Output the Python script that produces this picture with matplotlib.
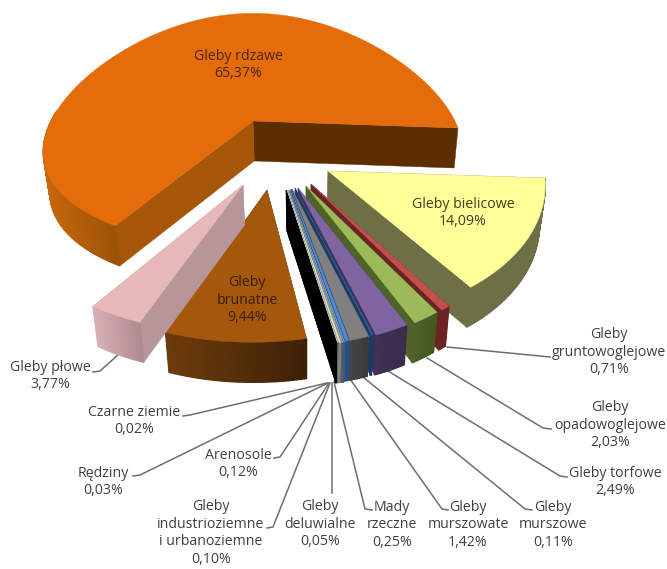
import numpy as np
import matplotlib
matplotlib.use("Agg")
import matplotlib.pyplot as plt
from matplotlib.colors import to_rgb

plt.rcParams['font.family'] = ['Open Sans', 'DejaVu Sans']

# data, counter-clockwise from the east edge of the pie
names = ["Gleby rdzawe", "Gleby płowe", "Gleby\nbrunatne", "Czarne ziemie", "Rędziny", "Arenosole",
         "Gleby\nindustrioziemne\ni urbanoziemne", "Gleby\ndeluwialne", "Mady\nrzeczne",
         "Gleby\nmurszowate", "Gleby\nmurszowe", "Gleby torfowe", "Gleby\nopadowoglejowe",
         "Gleby\ngruntowoglejowe", "Gleby bielicowe"]
values = [65.37, 3.77, 9.44, 0.02, 0.03, 0.12, 0.10, 0.05, 0.25, 1.42, 0.11, 2.49, 2.03, 0.71, 14.09]

top_col = ["#E46C0A", "#E6B9B8", "#A5570B", "#000000", "#B7C4D8", "#EDE3A0", "#7FA9DC", "#9A9A9A",
           "#4F8BD6", "#808080", "#2F5F9E", "#8064A2", "#9BBB59", "#C0504D", "#FFFF99"]
wall_a = ["#C8680C", "#D8B0B4", "#6E3C0C", "#000000", "#5E6B7D", "#8C865E", "#3E5F8C", "#555555",
          "#23508C", "#454545", "#1B3A66", "#3F3151", "#4F6228", "#6B2422", "#6E6F45"]
wall_b = ["#9C5208", "#AE8A90", "#3C2006", "#000000", "#5E6B7D", "#8C865E", "#3E5F8C", "#555555",
          "#23508C", "#3A3A3A", "#1B3A66", "#3A2D4B", "#455622", "#6B2422", "#6E6F45"]
cut_start = ["#5C2E00", "#B7969A", "#5A3008", "#000000", "#5E6B7D", "#8C865E", "#3E5F8C", "#555555",
             "#23508C", "#2B2B2B", "#1B3A66", "#3F3151", "#4F6228", "#6B2422", "#6E6F45"]
cut_end = ["#A65608", "#B7969A", "#5A3008", "#000000", "#5E6B7D", "#8C865E", "#3E5F8C", "#555555",
           "#23508C", "#2B2B2B", "#1B3A66", "#3F3151", "#4F6228", "#6B2422", "#6E6F45"]

# projection of each exploded slice, in pixels
apex_x = [253, 243, 267, 286, 287, 288, 289, 290, 291, 292, 295, 298, 306, 311, 328]
apex_y = [121, 185, 190, 190, 190, 190, 190, 190, 189, 189, 188, 188, 186, 184, 171]
rad_x = [205, 235, 243, 190, 190, 190, 190, 190, 190, 190, 190, 190, 190, 190, 217]
rad_y = [117, 136, 141, 145, 145, 145, 145, 145, 145, 145, 145, 145, 145, 145, 138]
persp = [0.22, 0.0, 0.0, 0.19, 0.19, 0.19, 0.19, 0.19, 0.19, 0.19, 0.19, 0.19, 0.19, 0.19, 0.05]
shear = [0, -20, -15, 0, 0, 0, 0, 0, 0, 0, 0, 0, 0, 0, 0]
depth = 40

label_x = [238, 50, 247, 134, 103, 238, 211, 320, 392, 468, 553, 615, 610, 609, 463]
label_y = [65, 376, 300, 421, 482, 464, 533, 524, 525, 525, 525, 482, 425, 352, 213]

# leader lines: label end, elbow, slice end (first slice has its label on the pie)
leaders = {
    1: [(93, 372), (100, 371), (119, 354)],
    3: [(183, 416), (190, 415), (327, 383)],
    4: [(133, 476), (140, 475), (328, 383)],
    5: [(274, 458), (280, 457), (329, 383)],
    6: [(267, 528), (273, 527), (330, 383)],
    7: [(332, 493), (332, 383)],
    8: [(372, 510), (365, 509), (334, 382)],
    9: [(448, 510), (442, 509), (350, 379)],
    10: [(532, 510), (525, 509), (363, 377)],
    11: [(567, 477), (560, 476), (388, 371)],
    12: [(551, 429), (543, 428), (427, 358)],
    13: [(550, 357), (540, 356), (447, 347)],
}

angles = np.concatenate([[0], np.cumsum(values)]) / sum(values) * 2 * np.pi


def rim(i, t):
    u, v = np.cos(t), -np.sin(t)
    x = apex_x[i] + rad_x[i] * u * (1 + persp[i] * v) + shear[i] * v
    y = apex_y[i] + rad_y[i] * v * (1 + 0.08 * v) + 7 * u * u
    return x, y


def drop(x, y):
    return x + (305 - x) * 0.025, y + depth


def mix(a, b, f):
    a, b = np.array(to_rgb(a)), np.array(to_rgb(b))
    return tuple(a + (b - a) * f)


fig = plt.figure(figsize=(6.67, 5.69), dpi=100)
ax = fig.add_axes([0, 0, 1, 1])
ax.set_xlim(0, 667)
ax.set_ylim(569, 0)
ax.axis("off")

for pts_i in leaders:
    pts = np.array(leaders[pts_i])
    ax.plot(pts[:, 0], pts[:, 1], color="#6E6E6E", lw=1.1, zorder=1)

order = [0] + list(range(len(values) - 1, 0, -1))
z = 2
for i in order:
    ts = np.linspace(angles[i], angles[i + 1], max(4, int(values[i] * 6)))
    xs, ys = rim(i, ts)
    bx, by = drop(xs, ys)
    ax0, ay0 = apex_x[i], apex_y[i]
    bx0, by0 = drop(ax0, ay0)

    # the two cut faces, hidden ones end up under the top
    for k, col in ((0, cut_start[i]), (-1, cut_end[i])):
        ax.fill([ax0, xs[k], bx[k], bx0], [ay0, ys[k], by[k], by0], color=col, lw=0.3, zorder=z)
    z += 1

    # outer wall as small shaded quads, only the part that faces us
    seen = np.where(np.sin(ts) < 0.02 if i else (ts > np.pi * 0.95))[0]
    if len(seen) > 1:
        for a, b in zip(seen[:-1], seen[1:]):
            f = (xs[a] - xs[seen].min()) / max(xs[seen].max() - xs[seen].min(), 1)
            ax.fill([xs[a], xs[b], bx[b], bx[a]], [ys[a], ys[b], by[b], by[a]],
                    color=mix(wall_a[i], wall_b[i], f), lw=1.0, zorder=z)
    z += 1

    ax.fill(np.r_[ax0, xs], np.r_[ay0, ys], color=top_col[i], lw=0.3, zorder=z)
    z += 1

for i in range(len(values)):
    txt = names[i] + "\n" + f"{values[i]:.2f}".replace(".", ",") + "%"
    col = {0: "#4A2408", 2: "#3A1E06", 14: "#40401E"}.get(i, "#404040")
    ax.text(label_x[i], label_y[i], txt, ha="center", va="center", fontsize=10.2, color=col,
            linespacing=1.22, zorder=100)

fig.savefig("out.png", dpi=100)
